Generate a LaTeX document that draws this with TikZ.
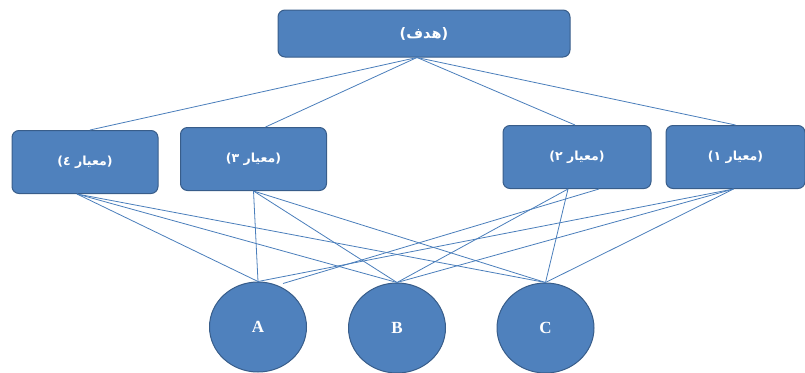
\documentclass[tikz,border=0pt]{standalone}
\usepackage{fontspec}
\setmainfont{Liberation Serif}
\newfontfamily\arabicfont[Script=Arabic]{DejaVu Sans}
\TeXXeTstate=1
\usetikzlibrary{calc,shapes.geometric}
\definecolor{boxfill}{HTML}{4F81BD}
\definecolor{boxline}{HTML}{385D8A}
\definecolor{linkcol}{HTML}{4A7EBB}
\begin{document}
\begin{tikzpicture}[x=1pt,y=-1pt,
  rbox/.style={draw=boxline,line width=1pt,fill=boxfill,rounded corners=7pt,inner sep=0pt,
     text=white,font=\arabicfont\bfseries\fontsize{12.5}{14}\selectfont},
  alt/.style={ellipse,draw=boxline,line width=1pt,fill=boxfill,inner sep=0pt,
     minimum width=97pt,minimum height=90pt,text=white,font=\bfseries\fontsize{17}{19}\selectfont},
  link/.style={draw=linkcol,line width=0.8pt}]
\useasboundingbox (0,0) rectangle (805,372);
\node[rbox,minimum width=292pt,minimum height=47pt,font=\arabicfont\bfseries\fontsize{14.5}{16}\selectfont] (goal) at (424,33.5) {\beginR(هدف)\endR};
\node[rbox,minimum width=146pt,minimum height=63pt] (c4) at (85,162) {\beginR(معیار ٤)\endR};
\node[rbox,minimum width=146pt,minimum height=63pt] (c3) at (253.5,159) {\beginR(معیار ٣)\endR};
\node[rbox,minimum width=148pt,minimum height=63pt] (c2) at (577,157) {\beginR(معیار ٢)\endR};
\node[rbox,minimum width=139pt,minimum height=63pt] (c1) at (735.5,157) {\beginR(معیار ١)\endR};
\node[alt] (A) at (258,327) {A};
\node[alt] (B) at (397,328) {B};
\node[alt] (C) at (545.5,328) {C};
% goal to criteria
\draw[link] ($(goal.south)+(-7,0)$) -- ($(c4.north)+(5,0)$);
\draw[link] ($(goal.south)+(-7,0)$) -- ($(c3.north)+(12,0)$);
\draw[link] ($(goal.south)+(-7,0)$) -- ($(c2.north)+(-2,0)$);
\draw[link] ($(goal.south)+(-7,0)$) -- ($(c1.north)+(0,0)$);
% criteria to alternatives
\foreach \t in {A,B,C} {
  \draw[link] ($(c4.south)+(-8,0)$) -- (\t.north);
  \draw[link] (c3.south) -- (\t.north);
  \draw[link] ($(c1.south)+(-2,0)$) -- (\t.north);
}
\draw[link] ($(c2.south)+(22,0)$) -- ($(A.north)+(25,2)$);
\draw[link] ($(c2.south)+(-9,0)$) -- (B.north);
\draw[link] ($(c2.south)+(-9,0)$) -- (C.north);
\end{tikzpicture}
\end{document}
